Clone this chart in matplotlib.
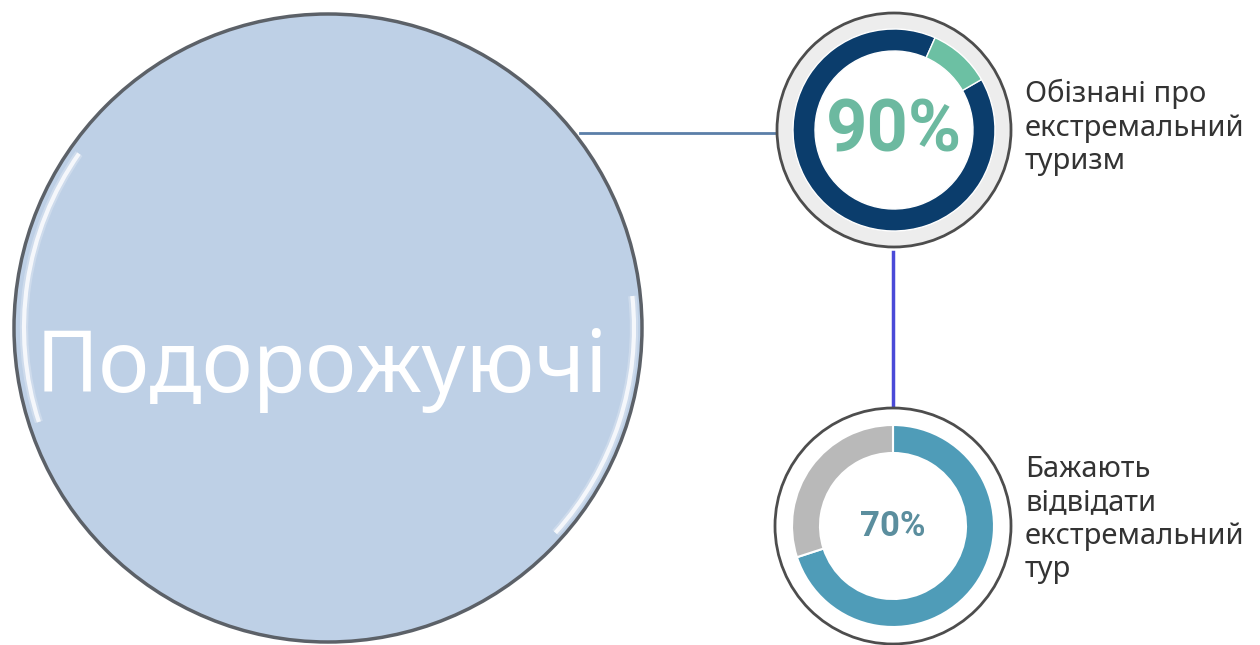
import matplotlib
matplotlib.use("Agg")
import matplotlib.pyplot as plt
from matplotlib.patches import Circle, Arc

plt.rcParams["font.family"] = ["Noto Sans", "DejaVu Sans"]

# data
main_label = "Подорожуючі"
aware_values = [90, 10]
aware_text = "90%"
aware_label = "Обізнані про\nекстремальний\nтуризм"
wish_values = [70, 30]
wish_text = "70%"
wish_label = "Бажають\nвідвідати\nекстремальний\nтур"

W, H = 1260, 645


def Y(y):
    # picture rows run top-down, axes run bottom-up
    return H - y


fig = plt.figure(figsize=(12.6, 6.45), dpi=100)
ax = fig.add_axes([0, 0, 1, 1])

# connector lines
ax.plot([580, 780], [Y(133), Y(133)], color="#5b7fa8", lw=2, zorder=0.3)
ax.plot([893, 893], [Y(252), Y(408)], color="#4a4ad8", lw=2.5, zorder=0.3)

# big circle
cx, cy, r = 328, Y(328), 314
ax.add_patch(Circle((cx, cy), r, facecolor="#bed0e6", edgecolor="#5c6168", lw=2.5, zorder=2))
for lw, a in [(6, 0.25), (3, 0.8)]:
    ax.add_patch(Arc((cx, cy), 2 * (r - 10), 2 * (r - 10), theta1=145, theta2=198,
                     color="white", lw=lw, alpha=a, zorder=3))
    ax.add_patch(Arc((cx, cy), 2 * (r - 8), 2 * (r - 8), theta1=-42, theta2=6,
                     color="white", lw=lw, alpha=a, zorder=3))
ax.text(322, Y(392), main_label, ha="center", va="baseline", color="white",
        fontsize=62, fontweight="light", zorder=4)

# top donut
tx, ty = 894, Y(130)
ax.add_patch(Circle((tx, ty), 117, facecolor="#ededed", edgecolor="#4d4d4d", lw=2, zorder=0.4))
ax.pie(aware_values, center=(tx, ty), radius=101, startangle=30, counterclock=False,
       colors=["#0b3d6c", "#6cc0a3"],
       wedgeprops=dict(width=22, edgecolor="white", linewidth=1))
ax.add_patch(Circle((tx, ty), 79, facecolor="white", edgecolor="none", zorder=0.5))
ax.text(tx, ty - 2, aware_text, ha="center", va="center", color="#6cb9a0",
        fontsize=52, fontweight="bold", family=["Roboto", "DejaVu Sans"])
ax.text(1025, Y(79), aware_label, ha="left", va="top", color="#333333",
        fontsize=21, linespacing=1.2)

# bottom donut
bx, by = 893, Y(526)
ax.add_patch(Circle((bx, by), 118, facecolor="white", edgecolor="#4d4d4d", lw=2, zorder=0.4))
ax.pie(wish_values, center=(bx, by), radius=101, startangle=90, counterclock=False,
       colors=["#4f9cb8", "#b9b9b9"],
       wedgeprops=dict(width=28, edgecolor="white", linewidth=1.5))
ax.text(bx, by, wish_text, ha="center", va="center", color="#5b8e9e",
        fontsize=25, fontweight="bold", family=["Roboto", "DejaVu Sans"])
ax.text(1025, Y(455), wish_label, ha="left", va="top", color="#333333",
        fontsize=21, linespacing=1.2)

ax.set_xlim(0, W)
ax.set_ylim(0, H)
ax.set_aspect("auto")
ax.axis("off")

fig.savefig("out.png", dpi=100, facecolor="white")
